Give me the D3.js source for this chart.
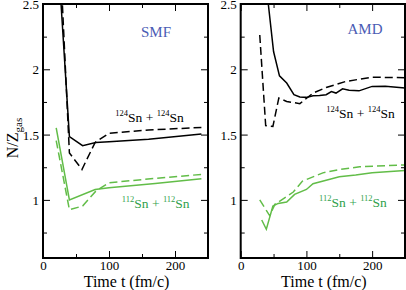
<!DOCTYPE html>
<html>
<head>
<meta charset="utf-8">
<script src="https://cdn.jsdelivr.net/npm/d3@7"></script>
<style>
  body { margin: 0; background: #fff; }
  text { font-family: "Liberation Serif", "Times New Roman", serif; }
</style>
</head>
<body>
<div id="chart"></div>
<script>
// [time fm/c, N/Z gas]
var smf124Solid = [[20, 3.09], [40, 1.485], [60, 1.415], [80, 1.44], [100, 1.445], [160, 1.465], [240, 1.505]];
var smf124Dash = [[20, 3.5], [40, 1.36], [59, 1.233], [79, 1.44], [100, 1.51], [160, 1.535], [240, 1.555]];
var smf112Solid = [[20, 1.551], [40, 1.0], [79, 1.08], [100, 1.093], [170, 1.125], [240, 1.162]];
var smf112Dash = [[20, 1.454], [40, 0.925], [60, 0.953], [80, 1.067], [100, 1.131], [170, 1.165], [240, 1.195]];

var amd124Solid = [[38, 3.2], [42, 2.5], [50, 2.136], [59, 1.95], [70, 1.895], [81, 1.805], [90, 1.788], [100, 1.785],
  [110, 1.797], [120, 1.8], [130, 1.805], [138, 1.83], [145, 1.818], [155, 1.85], [165, 1.84], [180, 1.835],
  [200, 1.869], [220, 1.87], [250, 1.856]];
var amd124Dash = [[29, 2.263], [38, 1.569], [49, 1.563], [58, 1.78], [70, 1.754], [90, 1.737], [110, 1.818],
  [130, 1.86], [160, 1.907], [200, 1.94], [250, 1.935]];
var amd112Solid = [[32, 0.846], [39, 0.775], [49, 0.953], [57, 0.973], [70, 0.983], [82, 1.042], [100, 1.08],
  [110, 1.124], [130, 1.15], [150, 1.177], [175, 1.19], [200, 1.207], [250, 1.225]];
var amd112Dash = [[29, 1.0], [44, 0.88], [52, 0.966], [80, 1.06], [94, 1.144], [125, 1.207], [151, 1.233],
  [181, 1.253], [250, 1.268]];

var xTicks = [0, 100, 200];
var xMinor = [50, 150, 250];
var yTicks = [1, 1.5, 2, 2.5];
var yMinor = [0.75, 1.25, 1.75, 2.25];

var black = "#000", green = "#62bd48", greenText = "#2f9f4c", blue = "#4a5cb4";
var serif = "'Liberation Serif', 'Times New Roman', serif";

var panels = [
  { x0: 43, x1: 208, title: "SMF", titleX: 156, titleY: 37,
    lab124: [149.5, 122], lab112: [155.7, 208],
    series: [[smf124Solid, black, null], [smf124Dash, black, "8,4"], [smf112Solid, green, null], [smf112Dash, green, "8,4"]] },
  { x0: 240.7, x1: 405, title: "AMD", titleX: 365, titleY: 34,
    lab124: [360.5, 118], lab112: [353, 206.5],
    series: [[amd124Solid, black, null], [amd124Dash, black, "8,4"], [amd112Solid, green, null], [amd112Dash, green, "8,4"]] }
];

var W = 406, H = 290, plotTop = 4, plotBottom = 258;

var svg = d3.select("#chart").append("svg").attr("width", W).attr("height", H);

var y = d3.scaleLinear().domain([0.555, 2.5]).range([plotBottom, plotTop]);

panels.forEach(function (p, i) {
  var x = d3.scaleLinear().domain([0, 250]).range([p.x0, p.x1]);
  var g = svg.append("g");

  g.append("clipPath").attr("id", "clip" + i)
    .append("rect").attr("x", p.x0).attr("y", plotTop).attr("width", p.x1 - p.x0).attr("height", plotBottom - plotTop);

  var line = d3.line().x(function (d) { return x(d[0]); }).y(function (d) { return y(d[1]); });

  p.series.forEach(function (s) {
    g.append("path")
      .attr("clip-path", "url(#clip" + i + ")")
      .attr("d", line(s[0]))
      .attr("fill", "none")
      .attr("stroke", s[1])
      .attr("stroke-width", 1.5)
      .attr("stroke-dasharray", s[2]);
  });

  // axes, ticks inward on every side
  function tickSet(axisFn, scale, vals, len, labels, tr) {
    var a = g.append("g").attr("transform", tr)
      .call(axisFn(scale).tickValues(vals).tickSizeInner(-len).tickSizeOuter(0).tickPadding(3)
        .tickFormat(labels ? d3.format("") : ""));
    a.attr("font-family", serif).attr("font-size", 13);
    a.select(".domain").remove();
    a.selectAll("line").attr("stroke", "#000").attr("stroke-width", 1);
    a.selectAll("text").attr("fill", "#000");
    return a;
  }
  tickSet(d3.axisBottom, x, xTicks, 7, true, "translate(0," + plotBottom + ")");
  tickSet(d3.axisBottom, x, xMinor, 4, false, "translate(0," + plotBottom + ")");
  tickSet(d3.axisTop, x, xTicks, 7, false, "translate(0," + plotTop + ")");
  tickSet(d3.axisTop, x, xMinor, 4, false, "translate(0," + plotTop + ")");
  var yl = tickSet(d3.axisLeft, y, yTicks, 7, true, "translate(" + p.x0 + ",0)");
  yl.selectAll("text").attr("x", -4).attr("dy", "0.35em");
  tickSet(d3.axisLeft, y, yMinor, 4, false, "translate(" + p.x0 + ",0)");
  tickSet(d3.axisRight, y, yTicks, 7, false, "translate(" + p.x1 + ",0)");
  tickSet(d3.axisRight, y, yMinor, 4, false, "translate(" + p.x1 + ",0)");

  g.append("rect")
    .attr("x", p.x0).attr("y", plotTop).attr("width", p.x1 - p.x0).attr("height", plotBottom - plotTop)
    .attr("fill", "none").attr("stroke", "#000").attr("stroke-width", 2);

  g.append("text").attr("x", p.titleX).attr("y", p.titleY).attr("text-anchor", "middle")
    .attr("fill", blue).style("font-size", "15px").text(p.title);

  function isoLabel(pos, mass, color) {
    var t = g.append("text").attr("x", pos[0]).attr("y", pos[1]).attr("text-anchor", "middle")
      .attr("fill", color).style("font-size", "13.5px");
    t.append("tspan").attr("dy", -6).style("font-size", "8.5px").text(mass);
    t.append("tspan").attr("dy", 6).text("Sn + ");
    t.append("tspan").attr("dy", -6).style("font-size", "8.5px").text(mass);
    t.append("tspan").attr("dy", 6).text("Sn");
  }
  isoLabel(p.lab124, "124", black);
  isoLabel(p.lab112, "112", greenText);

  g.append("text").attr("x", (p.x0 + p.x1) / 2 + 1).attr("y", 287).attr("text-anchor", "middle")
    .style("font-size", "16px").text("Time t (fm/c)");
});

var ylab = svg.append("text").attr("transform", "translate(18,138) rotate(-90)")
  .attr("text-anchor", "middle").style("font-size", "16px");
ylab.append("tspan").text("N/Z");
ylab.append("tspan").attr("dy", 4).style("font-size", "11px").text("gas");
</script>
</body>
</html>
